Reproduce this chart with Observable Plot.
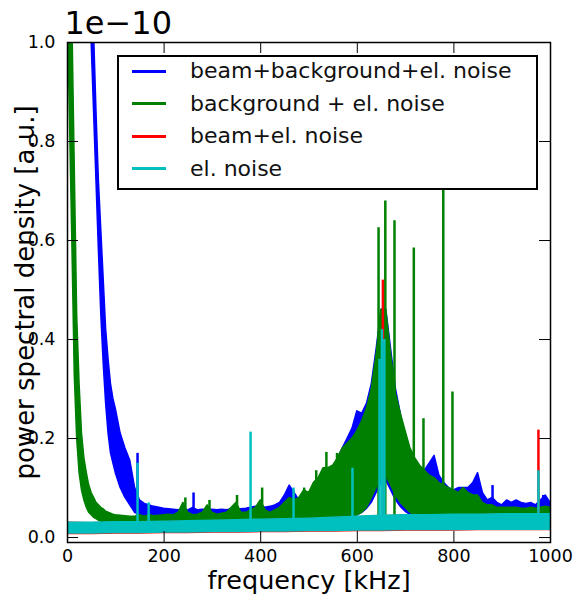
<!DOCTYPE html>
<html><head><meta charset="utf-8">
<script src="https://cdn.jsdelivr.net/npm/d3@7"></script>
<script src="https://cdn.jsdelivr.net/npm/@observablehq/plot@0.6"></script>
<style>
body{margin:0;background:#fff;}
#wrap{position:relative;width:573px;height:599px;font-family:"DejaVu Sans",sans-serif;}
#legend{position:absolute;left:117px;top:55px;width:421px;height:135px;box-sizing:border-box;border:2px solid #000;background:#fff;}
.row{position:absolute;left:0;height:0;}
.sw{position:absolute;left:13px;width:34px;height:3px;top:-1.5px;}
.lb{position:absolute;left:71px;top:-14px;font-size:22px;line-height:28px;white-space:nowrap;color:#111;}
</style></head><body><div id="wrap"></div>
<script>
// ---- data ----
const title = "1e\u221210";
const xLabel = "frequency [kHz]";
const yLabel = "power spectral density [a.u.]";
const xTicks = [0, 200, 400, 600, 800, 1000];
const yTicks = [0.0, 0.2, 0.4, 0.6, 0.8, 1.0];
const seriesNames = ["beam+background+el. noise", "background + el. noise", "beam+el. noise", "el. noise"];
const seriesColors = ["#0000ff", "#008000", "#ff0000", "#00bfbf"];

// frequency grid (kHz) for the two dominant spectra
const freq = [0,5,10,15,20,25,30,35,40,45,50,55,60,65,70,75,80,85,90,95,100,
110,120,130,140,150,160,170,180,190,200,
210,220,230,240,250,260,270,280,290,300,
310,320,330,340,350,360,370,380,390,400,
410,420,430,440,450,460,470,480,490,500,
510,520,530,540,550,560,570,580,590,600,
610,620,630,640,650,660,670,680,690,700,
710,720,730,740,750,760,770,780,790,800,
810,820,830,840,850,860,870,880,890,900,
910,920,930,940,950,960,970,980,990,1000];

// beam+background+el. noise: lower / upper edge of the noisy trace
const blueLow = [3.0,2.8,2.5,2.2,2.0,1.8,1.6,1.45,1.3,1.15,1.0,0.86,0.72,0.58,0.45,0.35,0.27,0.21,0.17,0.15,0.13,
0.10,0.08,0.065,0.05,0.045,0.04,0.038,0.036,0.035,0.035,
0.034,0.034,0.034,0.034,0.034,0.034,0.034,0.034,0.034,0.034,
0.034,0.034,0.034,0.034,0.035,0.035,0.035,0.035,0.035,0.035,
0.036,0.036,0.036,0.036,0.037,0.037,0.037,0.037,0.038,0.038,
0.038,0.039,0.039,0.04,0.04,0.04,0.041,0.042,0.043,0.045,
0.05,0.058,0.07,0.09,0.11,0.115,0.095,0.075,0.062,0.052,
0.046,0.043,0.042,0.042,0.041,0.041,0.04,0.04,0.04,0.04,
0.04,0.04,0.04,0.04,0.04,0.04,0.04,0.04,0.04,0.04,
0.04,0.04,0.04,0.04,0.04,0.04,0.04,0.04,0.04,0.04];
const blueHigh = [3.5,3.2,3.0,2.7,2.4,2.2,2.0,1.8,1.6,1.4,1.2,1.02,0.86,0.72,0.62,0.52,0.42,0.36,0.31,0.28,0.26,
0.21,0.18,0.155,0.10,0.075,0.068,0.065,0.062,0.06,0.058,
0.057,0.056,0.055,0.056,0.055,0.06,0.055,0.056,0.055,0.056,
0.055,0.056,0.055,0.057,0.056,0.057,0.058,0.06,0.062,0.065,
0.06,0.062,0.065,0.07,0.085,0.105,0.09,0.075,0.08,0.085,
0.095,0.11,0.13,0.13,0.14,0.16,0.18,0.2,0.22,0.255,
0.25,0.27,0.31,0.38,0.46,0.46,0.38,0.3,0.25,0.2,
0.17,0.15,0.14,0.135,0.15,0.165,0.125,0.11,0.1,0.095,
0.1,0.1,0.1,0.11,0.13,0.09,0.075,0.08,0.07,0.065,
0.075,0.07,0.075,0.07,0.068,0.07,0.065,0.075,0.085,0.07];

// background + el. noise
const greenLow = [1.1,0.85,0.6,0.33,0.2,0.13,0.095,0.075,0.06,0.05,0.045,0.04,0.037,0.034,0.032,0.03,0.03,0.028,0.028,0.027,0.027,
0.026,0.026,0.026,0.026,0.026,0.027,0.027,0.027,0.027,0.028,
0.028,0.028,0.028,0.029,0.029,0.029,0.029,0.029,0.03,0.03,
0.03,0.03,0.03,0.03,0.031,0.031,0.031,0.032,0.032,0.032,
0.033,0.033,0.033,0.034,0.034,0.034,0.035,0.035,0.035,0.036,
0.036,0.037,0.037,0.038,0.038,0.039,0.04,0.041,0.042,0.045,
0.05,0.06,0.08,0.1,0.12,0.125,0.105,0.085,0.07,0.06,
0.05,0.045,0.043,0.042,0.041,0.041,0.04,0.04,0.04,0.04,
0.04,0.04,0.04,0.04,0.04,0.04,0.04,0.04,0.04,0.04,
0.04,0.04,0.04,0.04,0.04,0.04,0.04,0.04,0.04,0.04];
const greenHigh = [2.0,1.3,1.05,0.75,0.45,0.31,0.21,0.16,0.13,0.105,0.09,0.08,0.07,0.065,0.06,0.057,0.052,0.05,0.048,0.046,0.045,
0.044,0.043,0.042,0.042,0.045,0.042,0.045,0.043,0.044,0.045,
0.046,0.045,0.05,0.07,0.05,0.045,0.046,0.05,0.065,0.05,
0.046,0.048,0.05,0.06,0.07,0.05,0.05,0.055,0.06,0.075,
0.055,0.05,0.055,0.06,0.07,0.08,0.075,0.08,0.095,0.09,
0.11,0.12,0.14,0.14,0.145,0.16,0.18,0.19,0.2,0.215,
0.235,0.26,0.3,0.37,0.46,0.46,0.37,0.29,0.25,0.215,
0.18,0.16,0.145,0.135,0.125,0.12,0.11,0.105,0.1,0.095,
0.09,0.1,0.09,0.085,0.085,0.07,0.065,0.065,0.06,0.06,
0.06,0.06,0.06,0.058,0.058,0.06,0.058,0.06,0.062,0.06];

// coarse grid for the electronic-noise floors
const noiseFreq = [0,50,100,150,200,250,300,350,400,450,500,550,600,650,700,750,800,850,900,950,1000];
const redLow  = [0.007,0.007,0.008,0.008,0.009,0.009,0.010,0.010,0.011,0.011,0.012,0.012,0.013,0.013,0.014,0.014,0.014,0.015,0.015,0.015,0.015];
const redHigh = [0.030,0.029,0.030,0.030,0.031,0.032,0.033,0.034,0.035,0.036,0.037,0.039,0.041,0.043,0.044,0.044,0.045,0.045,0.046,0.046,0.046];
const cyanLow  = [0.008,0.008,0.009,0.009,0.010,0.010,0.011,0.011,0.012,0.012,0.013,0.013,0.014,0.014,0.015,0.015,0.015,0.016,0.016,0.016,0.016];
const cyanHigh = [0.030,0.030,0.031,0.031,0.032,0.033,0.034,0.035,0.036,0.037,0.038,0.040,0.042,0.044,0.045,0.045,0.046,0.046,0.047,0.047,0.047];

// narrow spectral lines (kHz, peak value)
const blueSpikeFreq = [145, 261, 880, 985];
const blueSpikeTop  = [0.17, 0.09, 0.105, 0.085];
const greenSpikeFreq = [244, 294, 351, 403, 490, 515, 536, 558, 644, 658, 677, 717, 737, 778, 797];
const greenSpikeTop  = [0.08, 0.075, 0.085, 0.10, 0.10, 0.135, 0.172, 0.17, 0.626, 0.68, 0.64, 0.585, 0.24, 0.71, 0.294];
const redSpikeFreq = [653, 975];
const redSpikeTop  = [0.52, 0.217];
const cyanSpikeFreq = [145, 168, 379, 468, 590, 646, 651, 656, 975];
const cyanSpikeTop  = [0.15, 0.07, 0.213, 0.10, 0.14, 0.36, 0.42, 0.40, 0.135];
const spikeBase = 0.02;

// ---- build ----
const W = 573, H = 599, ml = 67, mr = 23, mt = 42, mb = 57;
const fw = W - ml - mr, fh = H - mt - mb;
const band = (fr, lo, hi) => fr.map((f, i) => ({f, lo: lo[i], hi: hi[i]}));
const lines = (fr, top) => fr.map((f, i) => ({f, top: top[i]}));

const series = [
  {c: seriesColors[0], b: band(freq, blueLow, blueHigh), s: lines(blueSpikeFreq, blueSpikeTop)},
  {c: seriesColors[1], b: band(freq, greenLow, greenHigh), s: lines(greenSpikeFreq, greenSpikeTop)},
  {c: seriesColors[2], b: band(noiseFreq, redLow, redHigh), s: lines(redSpikeFreq, redSpikeTop)},
  {c: seriesColors[3], b: band(noiseFreq, cyanLow, cyanHigh), s: lines(cyanSpikeFreq, cyanSpikeTop)}
];

const marks = [];
for (const s of series) {
  marks.push(Plot.areaY(s.b, {x: "f", y1: "lo", y2: "hi", fill: s.c, stroke: s.c, strokeWidth: 1.5, clip: true}));
  marks.push(Plot.ruleX(s.s, {x: "f", y1: spikeBase, y2: "top", stroke: s.c, strokeWidth: 2.5, clip: true}));
}
const tk = {stroke: "#000", strokeWidth: 1};
marks.push(
  Plot.tickX(xTicks, {x: d => d, insetTop: fh - 11, ...tk}),
  Plot.tickX(xTicks, {x: d => d, insetBottom: fh - 11, ...tk}),
  Plot.tickY(yTicks, {y: d => d, insetRight: fw - 11, ...tk}),
  Plot.tickY(yTicks, {y: d => d, insetLeft: fw - 11, ...tk}),
  Plot.frame({stroke: "#000", strokeWidth: 1.5}),
  Plot.axisX({anchor: "bottom", ticks: xTicks, tickSize: 0, tickPadding: 7, tickFormat: d => String(d), fontSize: 17.5, label: null}),
  Plot.axisY({anchor: "left", ticks: yTicks, tickSize: 0, tickPadding: 12, tickFormat: d3.format(".1f"), fontSize: 17.5, label: null}),
  Plot.text([title], {text: d => d, frameAnchor: "top-left", textAnchor: "start", lineAnchor: "middle", dx: -3, dy: -19, fontSize: 32, fill: "#000"}),
  Plot.text([xLabel], {text: d => d, frameAnchor: "bottom", textAnchor: "middle", lineAnchor: "middle", dy: 38, fontSize: 25.5, fill: "#000"}),
  Plot.text([yLabel], {text: d => d, frameAnchor: "left", textAnchor: "middle", lineAnchor: "middle", rotate: -90, dx: -42, fontSize: 26, fill: "#000"})
);

const chart = Plot.plot({
  width: W, height: H,
  marginLeft: ml, marginRight: mr, marginTop: mt, marginBottom: mb,
  style: {fontFamily: "DejaVu Sans, sans-serif", fontSize: "18px", color: "#000", background: "#fff"},
  x: {domain: [0, 1000]},
  y: {domain: [-0.01, 1.0]},
  marks
});
const wrap = document.getElementById("wrap");
wrap.appendChild(chart);

// legend (inside the axes, upper right)
const legend = document.createElement("div");
legend.id = "legend";
const rowY = [14, 46.5, 79, 111.5];
seriesNames.forEach((name, i) => {
  const row = document.createElement("div");
  row.className = "row";
  row.style.top = rowY[i] + "px";
  const sw = document.createElement("div");
  sw.className = "sw";
  sw.style.background = seriesColors[i];
  const lb = document.createElement("div");
  lb.className = "lb";
  lb.textContent = name;
  row.appendChild(sw); row.appendChild(lb);
  legend.appendChild(row);
});
wrap.appendChild(legend);
</script></body></html>
